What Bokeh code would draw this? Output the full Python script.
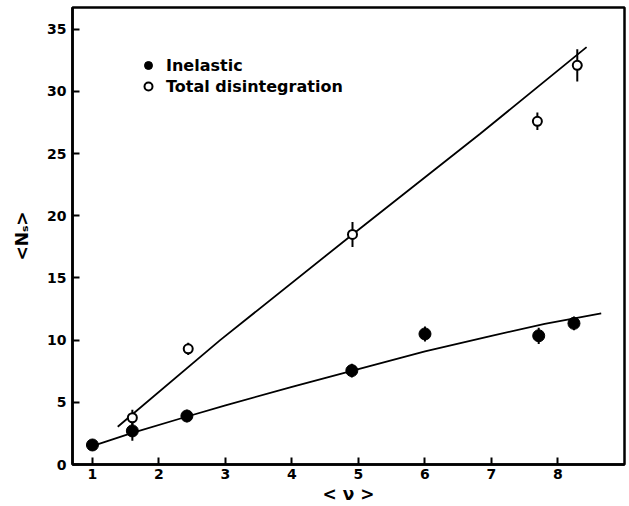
from bokeh.plotting import figure
from bokeh.models import ColumnDataSource, Range1d, FixedTicker, Legend, LegendItem
from bokeh.embed import file_html
from bokeh.resources import INLINE

# Mean shower-particle multiplicity <Ns> versus mean number of collisions <nu>
nu_inelastic = [1.0, 1.6, 2.42, 4.9, 6.0, 7.71, 8.24]
ns_inelastic = [1.57, 2.7, 3.9, 7.55, 10.5, 10.35, 11.35]
err_inelastic = [0.45, 0.8, 0.5, 0.55, 0.6, 0.65, 0.55]

nu_total = [1.6, 2.44, 4.91, 7.69, 8.29]
ns_total = [3.76, 9.3, 18.5, 27.6, 32.1]
err_total = [0.65, 0.5, 1.0, 0.7, 1.3]

# Hand-drawn trend curves
curve_inel_nu = [0.95, 1.6, 2.4, 3.0, 4.0, 4.9, 6.0, 7.0, 7.8, 8.65]
curve_inel_ns = [1.40, 2.55, 3.82, 4.75, 6.25, 7.53, 9.1, 10.35, 11.3, 12.15]

curve_total_nu = [1.38, 2.92, 4.91, 6.83, 8.43]
curve_total_ns = [3.04, 10.0, 18.5, 26.6, 33.56]

x_ticks = [1, 2, 3, 4, 5, 6, 7, 8]
y_ticks = [0, 5, 10, 15, 20, 25, 30, 35]

FONT = "DejaVu Sans"

p = figure(width=629, height=506, output_backend="svg", toolbar_location=None,
           x_range=Range1d(0.7, 9.0), y_range=Range1d(0, 36.75),
           min_border_left=72, min_border_right=5, min_border_top=7, min_border_bottom=42)
p.background_fill_color = "white"
p.border_fill_color = "white"
p.grid.visible = False
p.outline_line_color = "black"
p.outline_line_width = 2.5

for ax in (p.xaxis[0], p.yaxis[0]):
    ax.axis_line_width = 2.5
    ax.axis_line_color = "black"
    ax.major_tick_line_width = 2
    ax.major_tick_line_color = "black"
    ax.major_tick_in = 7
    ax.major_tick_out = 0
    ax.minor_tick_line_color = None
    ax.major_label_text_font = FONT
    ax.major_label_text_font_style = "bold"
    ax.major_label_text_font_size = "14px"
    ax.major_label_text_color = "black"
    ax.axis_label_text_font = FONT
    ax.axis_label_text_font_style = "bold"
    ax.axis_label_text_font_size = "17px"
    ax.axis_label_text_color = "black"

p.xaxis.ticker = FixedTicker(ticks=x_ticks)
p.yaxis.ticker = FixedTicker(ticks=y_ticks)
p.xaxis.major_label_standoff = 4
p.yaxis.major_label_standoff = 6
p.xaxis.axis_label = "< ν >"
p.yaxis.axis_label = "<Nₛ>"
p.xaxis.axis_label_standoff = 2
p.yaxis.axis_label_standoff = 12

# trend curves
p.line(curve_total_nu, curve_total_ns, line_color="black", line_width=1.8)
p.line(curve_inel_nu, curve_inel_ns, line_color="black", line_width=1.8)

src_inel = ColumnDataSource(dict(
    x=nu_inelastic, y=ns_inelastic,
    lo=[v - e for v, e in zip(ns_inelastic, err_inelastic)],
    hi=[v + e for v, e in zip(ns_inelastic, err_inelastic)]))
src_tot = ColumnDataSource(dict(
    x=nu_total, y=ns_total,
    lo=[v - e for v, e in zip(ns_total, err_total)],
    hi=[v + e for v, e in zip(ns_total, err_total)]))

# error bars
p.segment(x0="x", y0="lo", x1="x", y1="hi", source=src_inel, line_color="black", line_width=2)
p.segment(x0="x", y0="lo", x1="x", y1="hi", source=src_tot, line_color="black", line_width=2)

r_inel = p.scatter("x", "y", source=src_inel, size=12, marker="circle",
                   fill_color="black", line_color="black")
r_tot = p.scatter("x", "y", source=src_tot, size=9, marker="circle",
                  fill_color="white", line_color="black", line_width=2)

legend = Legend(items=[LegendItem(label="Inelastic", renderers=[r_inel]),
                       LegendItem(label="Total disintegration", renderers=[r_tot])],
                location=(66, 368), margin=0, padding=0, spacing=1,
                glyph_width=20, glyph_height=20, label_standoff=8,
                label_text_font=FONT, label_text_font_size="16px",
                label_text_font_style="bold",
                label_text_color="black", background_fill_alpha=0,
                border_line_color=None)
p.add_layout(legend)

open("out.html", "w").write(file_html(p, INLINE))
